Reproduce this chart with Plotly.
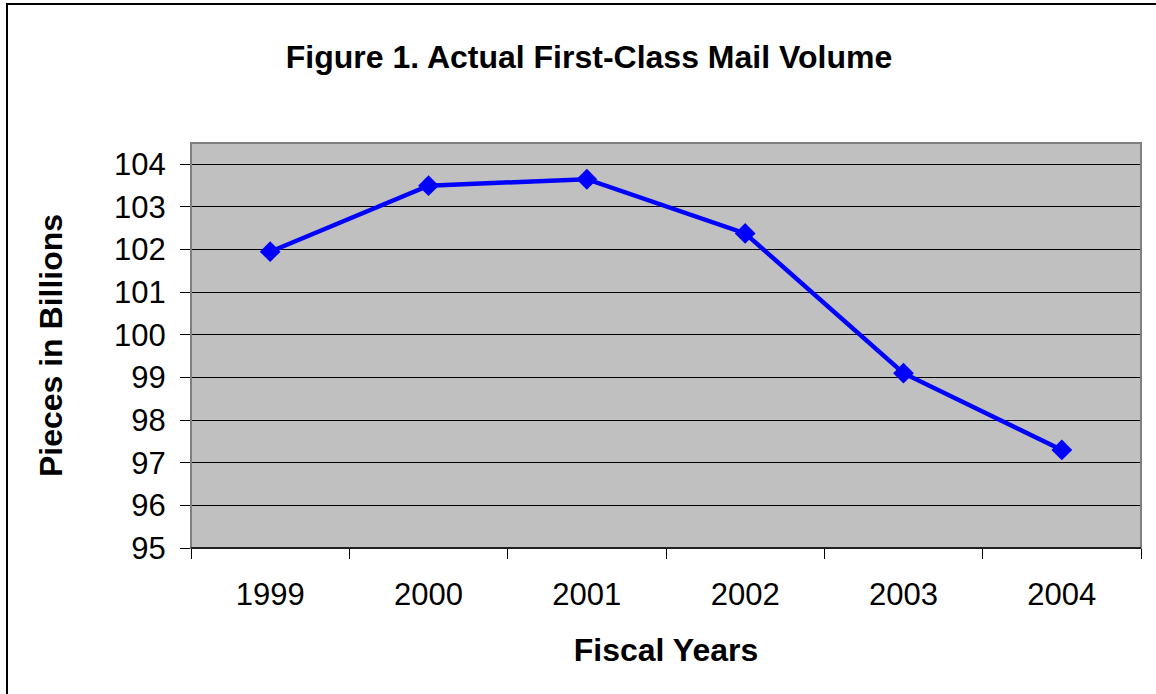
import plotly.graph_objects as go

years = ["1999", "2000", "2001", "2002", "2003", "2004"]
volume = [101.95, 103.5, 103.65, 102.38, 99.1, 97.3]
y_ticks = [95, 96, 97, 98, 99, 100, 101, 102, 103, 104]

xpos = list(range(len(years)))

PL, PR, PT, PB = 191, 1141, 143, 548   # plot area in page pixels
W, H = 1156, 694
L, T = PL, PT
R, B = W - PR, H - PB
pw, ph = PR - PL, PB - PT

fig = go.Figure()
fig.add_trace(go.Scatter(
    x=xpos, y=volume, mode="lines+markers",
    line=dict(color="#0000FF", width=4.5),
    marker=dict(symbol="diamond", size=16, color="#0000FF"),
    showlegend=False, cliponaxis=False,
))

fig.update_layout(
    width=W, height=H,
    margin=dict(l=L, r=R, t=T, b=B),
    paper_bgcolor="white", plot_bgcolor="#C0C0C0",
    font=dict(family="Liberation Sans, Arial, sans-serif", color="black"),
    title=dict(text="<b>Figure 1. Actual First-Class Mail Volume</b>",
               x=(589 - PL) / pw, xref="paper", xanchor="center",
               y=1 - 57 / H, yanchor="middle", font=dict(size=32)),
    xaxis=dict(
        range=[-0.5, len(years) - 0.5], tickmode="array", tickvals=xpos, ticktext=years,
        ticks="", showgrid=False, zeroline=False, tickfont=dict(size=31),
        ticklabelstandoff=19,
        showline=True, linecolor="black", linewidth=1,
        minor=dict(tickmode="array", tickvals=[i - 0.5 for i in range(len(years) + 1)],
                   ticks="outside", ticklen=10, tickcolor="black", tickwidth=1, showgrid=False),
        title=dict(text="<b>Fiscal Years</b>", font=dict(size=32), standoff=27),
    ),
    yaxis=dict(
        range=[95, 104.5], tickmode="array", tickvals=y_ticks,
        ticks="outside", ticklen=10, tickcolor="black", tickwidth=1,
        showgrid=True, gridcolor="black", gridwidth=1, zeroline=False,
        tickfont=dict(size=31), ticklabelstandoff=8,
        title=dict(text="<b>Pieces in Billions</b>", font=dict(size=32), standoff=41),
    ),
    shapes=[
        dict(type="rect", xref="paper", yref="paper", x0=0, x1=1, y0=0, y1=1,
             line=dict(color="#808080", width=2), layer="above"),
        dict(type="line", xref="paper", yref="paper", x0=0, x1=1, y0=0, y1=0,
             line=dict(color="black", width=1.5), layer="above"),
        dict(type="rect", xref="paper", yref="paper",
             x0=(7 - PL) / pw, x1=(1170 - PL) / pw,
             y0=(PB - 710) / ph, y1=(PB - 4) / ph,
             line=dict(color="black", width=2), layer="below"),
    ],
)

fig.write_html("out.html", config={"displayModeBar": False},
               post_script="document.body.style.margin='0';")
